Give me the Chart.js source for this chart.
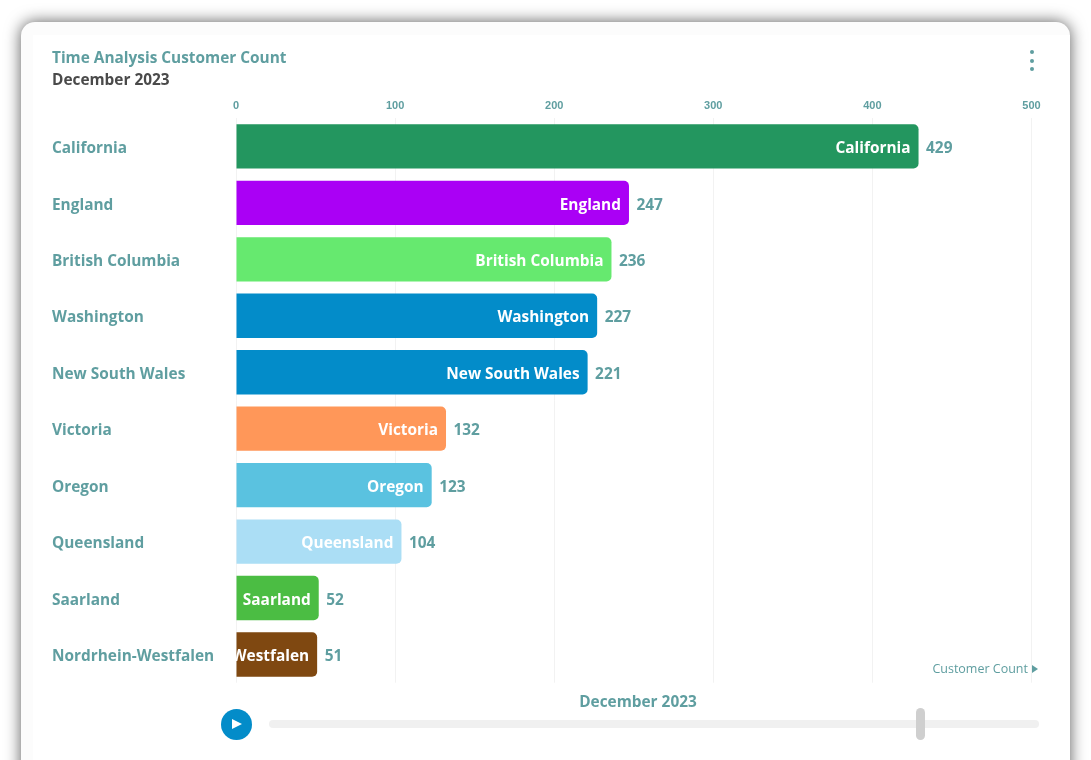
<!DOCTYPE html>
<html>
<head>
<meta charset="utf-8">
<title>Time Analysis Customer Count</title>
<script src="https://cdn.jsdelivr.net/npm/chart.js@4/dist/chart.umd.min.js"></script>
<style>
html, body { margin: 0; padding: 0; width: 1091px; height: 760px; overflow: hidden; background: #fff; font-family: "Open Sans", sans-serif; }
.card { position: absolute; left: 21px; top: 22px; width: 1049px; height: 780px; background: #fcfcfc; border-radius: 14px; box-shadow: 0 0 16px rgba(0,0,0,.65); }
.inner { position: absolute; left: 12px; top: 13px; right: 0; bottom: 0; background: #fff; }
#wrap { position: absolute; left: 0; top: 0; width: 1091px; height: 760px; }
.title { position: absolute; left: 52px; top: 48px; font-size: 15.4px; font-weight: 700; color: #5f9ea0; line-height: 20px; white-space: nowrap; }
.subtitle { position: absolute; left: 52px; top: 70px; font-size: 15.4px; font-weight: 700; color: #4a4a4a; line-height: 20px; white-space: nowrap; }
.dot { position: absolute; left: 1030px; width: 4px; height: 4px; border-radius: 50%; background: #5f9ea0; }
.metric { position: absolute; right: 63px; top: 660px; font-size: 12.5px; color: #5f9ea0; line-height: 17px; white-space: nowrap; }
.arrow { position: absolute; left: 1032px; top: 665px; width: 0; height: 0; border-left: 6px solid #5f9ea0; border-top: 4px solid transparent; border-bottom: 4px solid transparent; }
.period { position: absolute; left: 238px; width: 800px; top: 692px; text-align: center; font-size: 15.4px; font-weight: 700; color: #5f9ea0; line-height: 20px; }
.play { position: absolute; left: 221px; top: 709px; width: 31px; height: 31px; border-radius: 50%; background: #038cc9; }
.play i { position: absolute; left: 11px; top: 10px; width: 0; height: 0; border-left: 10px solid #fff; border-top: 5.5px solid transparent; border-bottom: 5.5px solid transparent; }
.track { position: absolute; left: 269px; top: 720px; width: 770px; height: 8px; border-radius: 4px; background: #f0f0f0; }
.thumb { position: absolute; left: 916px; top: 708px; width: 9px; height: 32px; border-radius: 4.5px; background: #cfcfcf; }
</style>
</head>
<body>
<div class="card"><div class="inner"></div></div>
<div id="wrap"><canvas id="MyChart" width="1091" height="760"></canvas></div>
<div class="title">Time Analysis Customer Count</div>
<div class="subtitle">December 2023</div>
<div class="dot" style="top:50px"></div>
<div class="dot" style="top:59px"></div>
<div class="dot" style="top:67px"></div>
<div class="metric">Customer Count</div>
<div class="arrow"></div>
<div class="period">December 2023</div>
<div class="play"><i></i></div>
<div class="track"></div>
<div class="thumb"></div>
<script>
const regions = ['California', 'England', 'British Columbia', 'Washington', 'New South Wales', 'Victoria', 'Oregon', 'Queensland', 'Saarland', 'Nordrhein-Westfalen'];
const customerCounts = [429, 247, 236, 227, 221, 132, 123, 104, 52, 51];
const barColors = ['#23965f', '#aa00f5', '#66e96f', '#038cc9', '#038cc9', '#ff9759', '#5ac2e0', '#abdef5', '#4bbd43', '#7f4811'];
const xTicks = [0, 100, 200, 300, 400, 500];

const labelColor = '#5f9ea0';
const labelFont = '700 15.4px "Open Sans"';

// Tên vùng bên trong thanh và giá trị ở cuối thanh
const barLabels = {
    id: 'barLabels',
    afterDatasetsDraw(chart) {
        const c = chart.ctx;
        const left = chart.scales.x.getPixelForValue(0);
        chart.getDatasetMeta(0).data.forEach((bar, i) => {
            c.save();
            c.font = labelFont;
            c.textBaseline = 'middle';
            c.fillStyle = labelColor;
            c.textAlign = 'left';
            c.fillText(customerCounts[i], bar.x + 7.5, bar.y + 2.3);
            c.beginPath();
            c.rect(left, bar.y - 22, bar.x - left, 44);
            c.clip();
            c.fillStyle = '#fff';
            c.textAlign = 'right';
            c.fillText(regions[i], bar.x - 8, bar.y + 2.3);
            c.restore();
        });
    }
};

const ctx = document.getElementById('MyChart').getContext('2d');
new Chart(ctx, {
    type: 'bar',
    data: {
        labels: regions,
        datasets: [{
            data: customerCounts,
            backgroundColor: barColors,
            borderRadius: { topRight: 5, bottomRight: 5 },
            borderSkipped: false,
            categoryPercentage: 1,
            barPercentage: 0.785
        }]
    },
    options: {
        indexAxis: 'y',
        responsive: false,
        animation: false,
        devicePixelRatio: 1,
        layout: { padding: { left: 52, right: 59.5, top: 94, bottom: 77.3 } },
        plugins: { legend: { display: false }, tooltip: { enabled: false } },
        scales: {
            x: {
                position: 'top',
                min: 0,
                max: 500,
                afterBuildTicks(axis) { axis.ticks = xTicks.map(v => ({ value: v })); },
                grid: { color: '#f2f2f2', drawTicks: false },
                border: { display: false },
                ticks: {
                    color: labelColor,
                    padding: 5.5,
                    maxRotation: 0,
                    font: { family: '"Liberation Sans"', size: 11, weight: 'bold' }
                }
            },
            y: {
                afterFit(axis) { axis.width = 184; },
                grid: { display: false },
                border: { display: false },
                ticks: {
                    color: labelColor,
                    crossAlign: 'far',
                    padding: 0,
                    labelOffset: 2.3,
                    autoSkip: false,
                    font: { family: '"Open Sans"', size: 15.4, weight: '700' }
                }
            }
        }
    },
    plugins: [barLabels]
});
</script>
</body>
</html>
